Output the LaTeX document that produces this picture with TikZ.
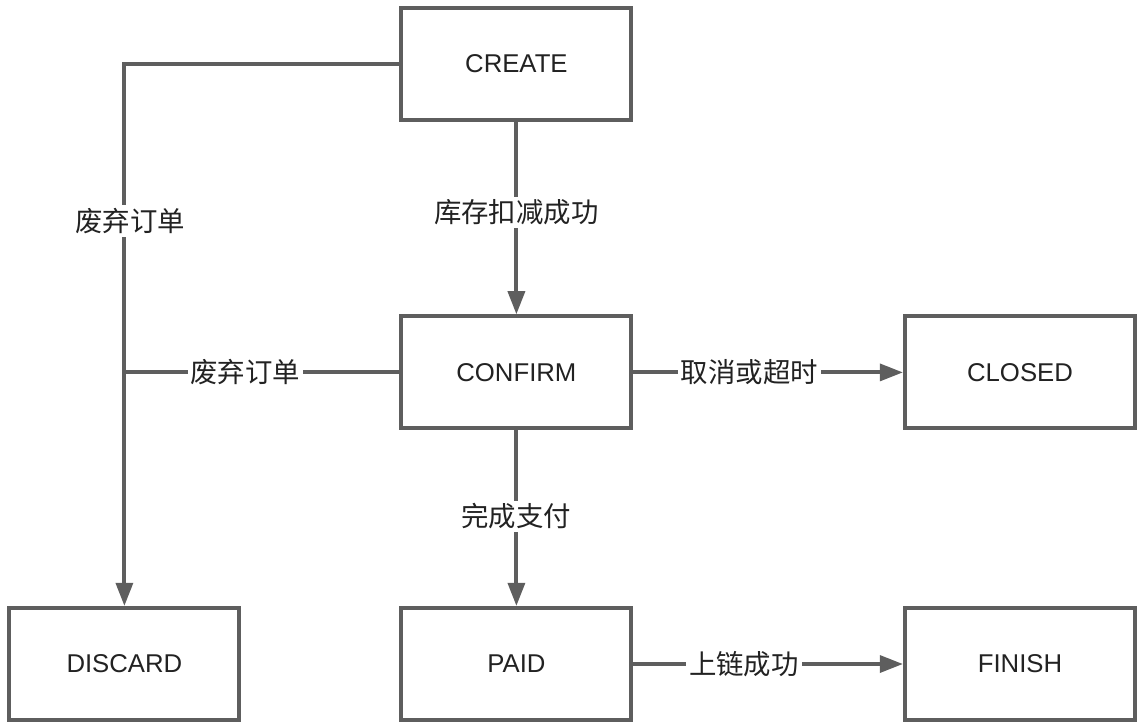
\documentclass[tikz,border=0pt]{standalone}
\usepackage{fontspec}
\setmainfont{Liberation Sans}
\newfontfamily\cjk{Noto Sans CJK SC}
\usetikzlibrary{positioning,arrows.meta,calc}
\definecolor{linegray}{HTML}{5E5E5E}
\definecolor{textdark}{HTML}{222222}

\begin{document}
\begin{tikzpicture}[
    state/.style={draw=linegray, line width=0.1cm, fill=white, shape=rectangle, minimum width=5.75cm, minimum height=2.8cm, text=textdark, font=\fontsize{18.3}{22}\selectfont},
    flow/.style={draw=linegray, line width=0.1cm},
    tip/.style={-{Triangle[length=0.58cm, width=0.42cm]}},
    lbl/.style={fill=white, inner sep=2pt, text=textdark, font=\cjk\fontsize{19.5}{23}\selectfont}]
        \useasboundingbox (0,0) rectangle (28.7,-18.175);
        \node[state] (create) at (12.91,-1.59) {CREATE};
        \node[state] (confirm) [below=4.82cm of create] {CONFIRM};
        \node[state] (closed) [right=6.74cm of confirm] {CLOSED};
        \node[state] (paid) [below=4.39cm of confirm] {PAID};
        \node[state] (finish) [right=6.74cm of paid] {FINISH};
        \node[state] (discard) [left=3.95cm of paid] {DISCARD};
        \coordinate (top) at (discard.north |- create.west);
        \coordinate (join) at (discard.north |- confirm.west);
        % discard branch on the left
        \draw[flow, tip] (create.west) -- (top) -- node[lbl, pos=0.29, xshift=0.15cm] {废弃订单} (discard.north);
        \draw[flow] (confirm.west) -- node[lbl, pos=0.56] {废弃订单} (join);
        % main path
        \draw[flow, tip] (create) -- node[lbl, pos=0.47] {库存扣减成功} (confirm);
        \draw[flow, tip] (confirm) -- node[lbl, pos=0.43] {取消或超时} (closed);
        \draw[flow, tip] (confirm) -- node[lbl, pos=0.49] {完成支付} (paid);
        \draw[flow, tip] (paid) -- node[lbl, pos=0.41] {上链成功} (finish);
\end{tikzpicture}
\end{document}
